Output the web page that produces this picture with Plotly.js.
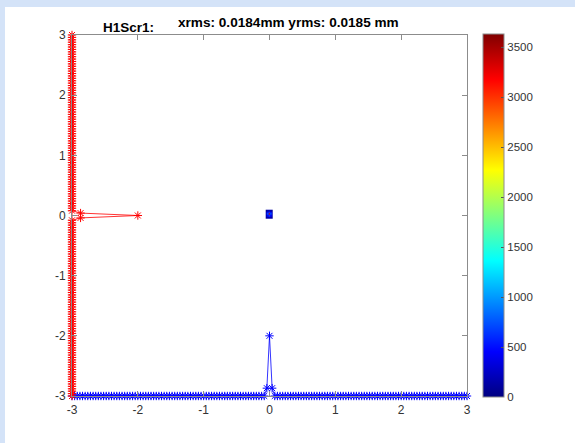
<!DOCTYPE html>
<html>
<head>
<meta charset="utf-8">
<script src="https://cdn.plot.ly/plotly-3.0.1.min.js"></script>
<style>
  html, body { margin: 0; padding: 0; background: #d4e3f8; width: 575px; height: 443px; overflow: hidden; }
  #chart { position: absolute; left: 5px; top: 7px; width: 570px; height: 436px; background: #ffffff; }
</style>
</head>
<body>
<div id="chart"></div>
<script>
// Sample positions along each axis (mm)
const gridPos = [
  -3,-2.96,-2.92,-2.88,-2.84,-2.8,-2.76,-2.72,-2.68,-2.64,
  -2.6,-2.56,-2.52,-2.48,-2.44,-2.4,-2.36,-2.32,-2.28,-2.24,
  -2.2,-2.16,-2.12,-2.08,-2.04,-2,-1.96,-1.92,-1.88,-1.84,
  -1.8,-1.76,-1.72,-1.68,-1.64,-1.6,-1.56,-1.52,-1.48,-1.44,
  -1.4,-1.36,-1.32,-1.28,-1.24,-1.2,-1.16,-1.12,-1.08,-1.04,
  -1,-0.96,-0.92,-0.88,-0.84,-0.8,-0.76,-0.72,-0.68,-0.64,
  -0.6,-0.56,-0.52,-0.48,-0.44,-0.4,-0.36,-0.32,-0.28,-0.24,
  -0.2,-0.16,-0.12,-0.08,-0.04,0,0.04,0.08,0.12,0.16,
  0.2,0.24,0.28,0.32,0.36,0.4,0.44,0.48,0.52,0.56,
  0.6,0.64,0.68,0.72,0.76,0.8,0.84,0.88,0.92,0.96,
  1,1.04,1.08,1.12,1.16,1.2,1.24,1.28,1.32,1.36,
  1.4,1.44,1.48,1.52,1.56,1.6,1.64,1.68,1.72,1.76,
  1.8,1.84,1.88,1.92,1.96,2,2.04,2.08,2.12,2.16,
  2.2,2.24,2.28,2.32,2.36,2.4,2.44,2.48,2.52,2.56,
  2.6,2.64,2.68,2.72,2.76,2.8,2.84,2.88,2.92,2.96,
  3
];
// Normalised projection of the beam onto y (drawn along the left edge)
const xProfile = [
  0,0,0,0,0,0,0,0,0,0, 0,0,0,0,0,0,0,0,0,0,
  0,0,0,0,0,0,0,0,0,0, 0,0,0,0,0,0,0,0,0,0,
  0,0,0,0,0,0,0,0,0,0, 0,0,0,0,0,0,0,0,0,0,
  0,0,0,0,0,0,0,0,0,0, 0,0,0,0,
  0.13,1,0.13,
  0,0,0,0,0,0,0,0,0,0, 0,0,0,0,0,0,0,0,0,0,
  0,0,0,0,0,0,0,0,0,0, 0,0,0,0,0,0,0,0,0,0,
  0,0,0,0,0,0,0,0,0,0, 0,0,0,0,0,0,0,0,0,0,
  0,0,0,0,0,0,0,0,0,0, 0,0,0,0
];
// Normalised projection of the beam onto x (drawn along the bottom edge)
const yProfile = [
  0,0,0,0,0,0,0,0,0,0, 0,0,0,0,0,0,0,0,0,0,
  0,0,0,0,0,0,0,0,0,0, 0,0,0,0,0,0,0,0,0,0,
  0,0,0,0,0,0,0,0,0,0, 0,0,0,0,0,0,0,0,0,0,
  0,0,0,0,0,0,0,0,0,0, 0,0,0,0,
  0.13,1,0.13,
  0,0,0,0,0,0,0,0,0,0, 0,0,0,0,0,0,0,0,0,0,
  0,0,0,0,0,0,0,0,0,0, 0,0,0,0,0,0,0,0,0,0,
  0,0,0,0,0,0,0,0,0,0, 0,0,0,0,0,0,0,0,0,0,
  0,0,0,0,0,0,0,0,0,0, 0,0,0,0
];
// Beam image (small, at the centre)
const imgX = [-0.047,-0.026,-0.005,0.016,0.037];
const imgY = [-0.032,-0.003,0.025,0.054,0.082];
const imgZ = [
  [80,160,200,160,80],
  [160,480,700,480,160],
  [200,700,3400,700,200],
  [160,480,700,480,160],
  [80,160,200,160,80]
];
const axisTicks = [-3,-2,-1,0,1,2,3];
const axisTickText = ['-3','-2','-1','0','1','2','3'];
const cbTicks = [0,500,1000,1500,2000,2500,3000,3500];
const titleLeft = 'H1Scr1:';
const titleRight = 'xrms: 0.0184mm yrms: 0.0185 mm';

const baseline = -3;
const jet = [[0,'#000080'],[0.125,'#0000ff'],[0.375,'#00ffff'],[0.625,'#ffff00'],[0.875,'#ff0000'],[1,'#800000']];
const fontFam = 'Liberation Sans, Arial, sans-serif';

const traces = [
  {
    type: 'heatmap', x: imgX, y: imgY, z: imgZ,
    colorscale: jet, zmin: 0, zmax: 3630, hoverinfo: 'skip',
    colorbar: {
      x: 1.0405, xanchor: 'left', xpad: 0, ypad: 0,
      y: 0.5, yanchor: 'middle', len: 363, lenmode: 'pixels',
      thickness: 21, thicknessmode: 'pixels',
      outlinecolor: '#8c8c8c', outlinewidth: 1,
      tickvals: cbTicks, ticktext: cbTicks.map(String),
      ticks: 'inside', ticklen: 3, tickcolor: '#555',
      tickfont: {family: fontFam, size: 11.5, color: '#333'}
    }
  },
  {
    type: 'scatter', mode: 'lines+markers',
    x: gridPos, y: yProfile.map(v => baseline + v),
    line: {color: '#0000ff', width: 0.8},
    marker: {symbol: 'asterisk-open', size: 7, color: '#0000ff', line: {color: '#0000ff', width: 1}},
    cliponaxis: false, hoverinfo: 'skip'
  },
  {
    type: 'scatter', mode: 'lines+markers',
    x: xProfile.map(v => baseline + v), y: gridPos,
    line: {color: '#ff0000', width: 0.8},
    marker: {symbol: 'asterisk-open', size: 7, color: '#ff0000', line: {color: '#ff0000', width: 1}},
    cliponaxis: false, hoverinfo: 'skip'
  }
];

const axisCommon = {
  range: [-3, 3], tickvals: axisTicks, ticktext: axisTickText,
  ticks: 'inside', ticklen: 5, tickcolor: '#8c8c8c',
  showline: true, linecolor: '#8c8c8c', linewidth: 1, mirror: 'ticks',
  showgrid: false, zeroline: false,
  tickfont: {family: fontFam, size: 12, color: '#333'}
};

const layout = {
  width: 570, height: 436,
  margin: {l: 67, r: 108, t: 28, b: 47, pad: 0},
  paper_bgcolor: '#ffffff', plot_bgcolor: '#ffffff',
  showlegend: false,
  xaxis: Object.assign({}, axisCommon, {ticklabelstandoff: 3}),
  yaxis: Object.assign({}, axisCommon, {ticklabelstandoff: 3}),
  annotations: [
    {xref: 'paper', yref: 'paper', x: 0.144, y: 1.022, xanchor: 'center', yanchor: 'middle',
     text: '<b>' + titleLeft + '</b>', showarrow: false,
     font: {family: fontFam, size: 13.5, color: '#000'}},
    {xref: 'paper', yref: 'paper', x: 0.548, y: 1.034, xanchor: 'center', yanchor: 'middle',
     text: '<b>' + titleRight + '</b>', showarrow: false,
     font: {family: fontFam, size: 13.6, color: '#000'}}
  ]
};

Plotly.newPlot('chart', traces, layout, {displayModeBar: false, staticPlot: true});
</script>
</body>
</html>
